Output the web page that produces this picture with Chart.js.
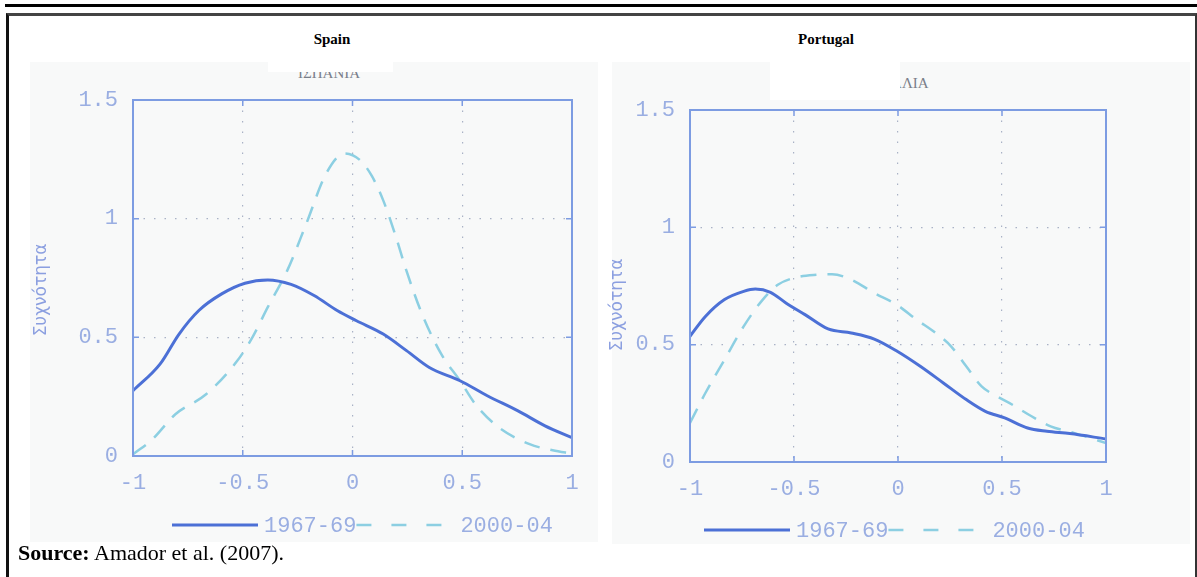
<!DOCTYPE html>
<html>
<head>
<meta charset="utf-8">
<script src="https://cdn.jsdelivr.net/npm/chart.js@4.4.0/dist/chart.umd.min.js"></script>
<style>
  body { margin: 0; width: 1197px; height: 577px; background: #fff; position: relative; overflow: hidden; font-family: "Liberation Serif", serif; }
  .rule { position: absolute; left: 5px; top: 4px; width: 1192px; height: 3px; background: #000; }
  .frame { position: absolute; left: 6px; top: 13px; width: 1186px; height: 580px; border-left: 3px solid #111; border-top: 3px solid #444; border-right: 2px solid #333; }
  .scan { position: absolute; background: #f8f9f9; }
  .cover { position: absolute; background: #fff; }
  .ptitle { position: absolute; font-weight: bold; font-size: 15px; transform: translateX(-50%); color: #000; }
  .greek { position: absolute; font-size: 15px; color: #7a7f8a; white-space: nowrap; }
  canvas { position: absolute; }
  .source { position: absolute; left: 18px; top: 540px; font-size: 22px; color: #000; }
</style>
</head>
<body>
<div class="rule"></div>
<div class="frame"></div>

<div class="scan" style="left:30px; top:62px; width:568px; height:480px;"></div>
<div class="scan" style="left:612px; top:62px; width:578px; height:482px;"></div>

<div class="greek" style="left:298px; top:65px;">ΙΣΠΑΝΙΑ</div>
<div class="cover" style="left:268px; top:55px; width:125px; height:17px;"></div>
<div class="greek" style="left:835px; top:75px;">ΠΟΡΤΟΓΑΛΙΑ</div>
<div class="cover" style="left:770px; top:55px; width:130px; height:45px;"></div>

<div class="ptitle" style="left:332px; top:31px;">Spain</div>
<div class="ptitle" style="left:826px; top:31px;">Portugal</div>

<canvas id="spain" width="585" height="495" style="left:20px; top:55px;"></canvas>
<canvas id="portugal" width="590" height="495" style="left:605px; top:55px;"></canvas>

<div class="source"><b>Source:</b> Amador et al. (2007).</div>

<script>
const xTicks = [-1, -0.5, 0, 0.5, 1];
const xTickLabels = ["-1", "-0.5", "0", "0.5", "1"];
const yTicks = [0, 0.5, 1, 1.5];
const yTickLabels = ["0", "0.5", "1", "1.5"];
const seriesNames = ["1967-69", "2000-04"];
const yAxisTitle = "Συχνότητα";

// Spain
const spainX1967 = [-1, -0.877, -0.79, -0.70, -0.596, -0.49, -0.386, -0.28, -0.175, -0.07, 0.018, 0.14, 0.246, 0.35, 0.49, 0.614, 0.754, 0.877, 1];
const spainY1967 = [0.275, 0.387, 0.514, 0.613, 0.683, 0.728, 0.742, 0.723, 0.676, 0.613, 0.570, 0.514, 0.444, 0.373, 0.317, 0.254, 0.190, 0.127, 0.077];
const spainX2000 = [-1, -0.912, -0.807, -0.667, -0.526, -0.456, -0.386, -0.298, -0.21, -0.12, -0.035, 0.035, 0.088, 0.14, 0.193, 0.246, 0.316, 0.404, 0.49, 0.56, 0.667, 0.807, 0.912, 1];
const spainY2000 = [0.007, 0.07, 0.176, 0.26, 0.40, 0.50, 0.627, 0.78, 0.98, 1.19, 1.275, 1.246, 1.18, 1.077, 0.937, 0.78, 0.60, 0.43, 0.317, 0.218, 0.12, 0.05, 0.024, 0.01];

// Portugal
const portX1967 = [-1, -0.926, -0.834, -0.742, -0.686, -0.613, -0.539, -0.447, -0.336, -0.225, -0.114, -0.004, 0.107, 0.218, 0.328, 0.42, 0.513, 0.623, 0.716, 0.826, 1];
const portY1967 = [0.536, 0.62, 0.692, 0.727, 0.737, 0.723, 0.678, 0.628, 0.567, 0.55, 0.524, 0.472, 0.408, 0.337, 0.266, 0.216, 0.188, 0.145, 0.131, 0.121, 0.098];
const portX2000 = [-1, -0.926, -0.834, -0.742, -0.65, -0.576, -0.483, -0.391, -0.317, -0.225, -0.114, -0.004, 0.089, 0.181, 0.255, 0.328, 0.402, 0.476, 0.55, 0.642, 0.734, 0.845, 1];
const portY2000 = [0.166, 0.294, 0.436, 0.578, 0.692, 0.756, 0.788, 0.798, 0.80, 0.777, 0.72, 0.669, 0.607, 0.55, 0.493, 0.408, 0.322, 0.28, 0.244, 0.195, 0.152, 0.124, 0.081];

const solidColor = "#4c70d6";
const dashColor = "#8ccfe2";
const textColor = "#9aaee2";
const boxColor = "#7d9ce2";
const gridColor = "#a9b2c6";
const monoFont = "'Liberation Mono', 'DejaVu Sans Mono', monospace";

// MATLAB style box, inner ticks, y title and legend
const boxAndLegend = {
  id: "boxAndLegend",
  afterDraw(chart, args, opts) {
    const { ctx, chartArea: a, scales } = chart;
    ctx.save();
    ctx.strokeStyle = boxColor;
    ctx.lineWidth = 2;
    ctx.strokeRect(a.left, a.top, a.right - a.left, a.bottom - a.top);

    // small inner ticks on every side
    ctx.lineWidth = 1.5;
    ctx.beginPath();
    xTicks.slice(1, -1).forEach(v => {
      const px = scales.x.getPixelForValue(v);
      ctx.moveTo(px, a.top); ctx.lineTo(px, a.top + 6);
      ctx.moveTo(px, a.bottom); ctx.lineTo(px, a.bottom - 6);
    });
    yTicks.slice(1, -1).forEach(v => {
      const py = scales.y.getPixelForValue(v);
      ctx.moveTo(a.left, py); ctx.lineTo(a.left + 6, py);
      ctx.moveTo(a.right, py); ctx.lineTo(a.right - 6, py);
    });
    ctx.stroke();

    // y axis title
    ctx.save();
    ctx.translate(opts.titleX, opts.titleY);
    ctx.rotate(-Math.PI / 2);
    ctx.fillStyle = "#8b9fe0";
    ctx.font = "17px 'DejaVu Sans', sans-serif";
    ctx.textAlign = "center";
    ctx.textBaseline = "middle";
    ctx.fillText(yAxisTitle, 0, 0);
    ctx.restore();

    // legend
    const x0 = opts.x, y0 = opts.y;
    ctx.font = "22px " + monoFont;
    ctx.textBaseline = "middle";
    ctx.textAlign = "left";
    ctx.lineWidth = 3;
    ctx.strokeStyle = solidColor;
    ctx.beginPath();
    ctx.moveTo(x0, y0);
    ctx.lineTo(x0 + 86, y0);
    ctx.stroke();
    ctx.fillStyle = textColor;
    let tx = x0 + 92;
    ctx.fillText(seriesNames[0], tx, y0 + 1);
    tx += ctx.measureText(seriesNames[0]).width;
    ctx.lineWidth = 2.5;
    ctx.strokeStyle = dashColor;
    ctx.setLineDash([15, 20]);
    ctx.beginPath();
    ctx.moveTo(tx, y0);
    ctx.lineTo(tx + 86, y0);
    ctx.stroke();
    ctx.setLineDash([]);
    ctx.fillText(seriesNames[1], tx + 104, y0 + 1);
    ctx.restore();
  }
};

function pts(xs, ys) {
  return xs.map((x, i) => ({ x: x, y: ys[i] }));
}

function makeChart(id, xs1, ys1, xs2, ys2, lay) {
  const ctx = document.getElementById(id).getContext("2d");
  return new Chart(ctx, {
    type: "line",
    data: {
      datasets: [
        {
          label: seriesNames[0],
          data: pts(xs1, ys1),
          borderColor: solidColor,
          borderWidth: 3,
          pointRadius: 0,
          cubicInterpolationMode: "monotone",
          fill: false
        },
        {
          label: seriesNames[1],
          data: pts(xs2, ys2),
          borderColor: dashColor,
          borderWidth: 2.5,
          borderDash: [16, 11],
          pointRadius: 0,
          cubicInterpolationMode: "monotone",
          fill: false
        }
      ]
    },
    options: {
      responsive: false,
      animation: false,
      devicePixelRatio: 1,
      layout: { padding: lay.padding },
      plugins: {
        legend: { display: false },
        tooltip: { enabled: false },
        boxAndLegend: lay.legend
      },
      scales: {
        x: {
          type: "linear",
          min: -1,
          max: 1,
          afterBuildTicks: (s) => { s.ticks = xTicks.map(v => ({ value: v })); },
          afterFit: (s) => { s.height = 40; },
          ticks: {
            padding: 14,
            color: textColor,
            font: { family: monoFont, size: 22 },
            callback: (v) => xTickLabels[xTicks.indexOf(v)]
          },
          grid: {
            drawTicks: false,
            color: (c) => (c.tick && Math.abs(c.tick.value) < 1 ? gridColor : "rgba(0,0,0,0)"),
            lineWidth: 1.2
          },
          border: { display: false, dash: [1.5, 9] }
        },
        y: {
          min: 0,
          max: 1.5,
          afterBuildTicks: (s) => { s.ticks = yTicks.map(v => ({ value: v })); },
          afterFit: (s) => { s.width = lay.yWidth; },
          ticks: {
            padding: 15,
            color: textColor,
            font: { family: monoFont, size: 22 },
            callback: (v) => yTickLabels[yTicks.indexOf(v)]
          },
          grid: {
            drawTicks: false,
            color: (c) => (c.tick && c.tick.value > 0 && c.tick.value < 1.5 ? gridColor : "rgba(0,0,0,0)"),
            lineWidth: 1.2
          },
          border: { display: false, dash: [1.5, 9] }
        }
      }
    },
    plugins: [boxAndLegend]
  });
}

makeChart("spain", spainX1967, spainY1967, spainX2000, spainY2000, {
  padding: { top: 45, right: 33, bottom: 54, left: 0 },
  yWidth: 113,
  legend: { x: 152, y: 470, titleX: 22, titleY: 235 }
});

makeChart("portugal", portX1967, portY1967, portX2000, portY2000, {
  padding: { top: 55, right: 89, bottom: 48, left: 0 },
  yWidth: 85,
  legend: { x: 99, y: 475, titleX: 13, titleY: 250 }
});
</script>
</body>
</html>
